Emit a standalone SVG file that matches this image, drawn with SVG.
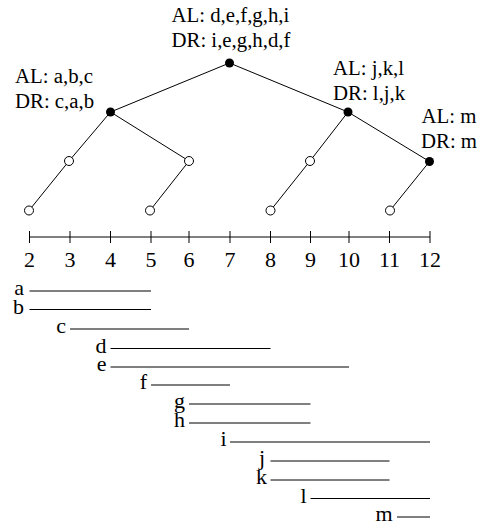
<svg xmlns="http://www.w3.org/2000/svg" width="488" height="527" viewBox="0 0 488 527">
<style>
text{font-family:"Liberation Serif","Times New Roman",serif;font-size:22px;fill:#000}
.t text{font-size:20.8px}
.e{stroke:#000;stroke-width:1;fill:none}
.f{fill:#000}
.o{fill:#fff;stroke:#000;stroke-width:1}
.r{text-anchor:end}
.m{text-anchor:middle}
</style>
<g id="connectors" class="e">
<line x1="229.5" y1="63" x2="110.5" y2="112"/>
<line x1="229.5" y1="63" x2="348" y2="112"/>
<line x1="110.5" y1="112" x2="69" y2="161"/>
<line x1="110.5" y1="112" x2="189" y2="161"/>
<line x1="69" y1="161" x2="29" y2="210.5"/>
<line x1="189" y1="161" x2="150" y2="210.5"/>
<line x1="348" y1="112" x2="310" y2="161"/>
<line x1="348" y1="112" x2="429.5" y2="161.5"/>
<line x1="310" y1="161" x2="270.5" y2="210.5"/>
<line x1="429.5" y1="161.5" x2="390" y2="210.5"/>
</g>
<g id="root" class="t"><circle class="f" cx="229.5" cy="63" r="4.5"/><text x="171.5" y="22">AL: d,e,f,g,h,i</text><text x="171.5" y="47">DR: i,e,g,h,d,f</text></g>
<g id="left" class="t"><circle class="f" cx="110.5" cy="112" r="4.5"/><text x="15" y="83">AL: a,b,c</text><text x="15" y="107.5">DR: c,a,b</text></g>
<g id="right" class="t"><circle class="f" cx="348" cy="112" r="4.5"/><text x="333" y="75">AL: j,k,l</text><text x="333" y="100">DR: l,j,k</text></g>
<g id="nm" class="t"><circle class="f" cx="429.5" cy="161.5" r="4.5"/><text x="421.5" y="123">AL: m</text><text x="421" y="148">DR: m</text></g>
<g id="n3"><circle class="o" cx="69" cy="161" r="4.5"/></g>
<g id="n6"><circle class="o" cx="189" cy="161" r="4.5"/></g>
<g id="n9"><circle class="o" cx="310" cy="161" r="4.5"/></g>
<g id="n2"><circle class="o" cx="29" cy="210.5" r="4.5"/></g>
<g id="n5"><circle class="o" cx="150" cy="210.5" r="4.5"/></g>
<g id="n8"><circle class="o" cx="270.5" cy="210.5" r="4.5"/></g>
<g id="n11"><circle class="o" cx="390" cy="210.5" r="4.5"/></g>
<g id="axis">
<line class="e" x1="29.5" y1="237" x2="430" y2="237"/>
<g class="e">
<line x1="29.5" y1="231" x2="29.5" y2="243"/>
<line x1="70" y1="231" x2="70" y2="243"/>
<line x1="110.5" y1="231" x2="110.5" y2="243"/>
<line x1="151" y1="231" x2="151" y2="243"/>
<line x1="189" y1="231" x2="189" y2="243"/>
<line x1="230" y1="231" x2="230" y2="243"/>
<line x1="270.5" y1="231" x2="270.5" y2="243"/>
<line x1="310.5" y1="231" x2="310.5" y2="243"/>
<line x1="349" y1="231" x2="349" y2="243"/>
<line x1="389.5" y1="231" x2="389.5" y2="243"/>
<line x1="430" y1="231" x2="430" y2="243"/>
</g>
<g class="m">
<text x="29.5" y="267">2</text>
<text x="70" y="267">3</text>
<text x="110.5" y="267">4</text>
<text x="151" y="267">5</text>
<text x="189" y="267">6</text>
<text x="230" y="267">7</text>
<text x="270.5" y="267">8</text>
<text x="310.5" y="267">9</text>
<text x="349" y="267">10</text>
<text x="389.5" y="267">11</text>
<text x="430" y="267">12</text>
</g>
</g>
<g id="intervals">
<g class="e">
<line x1="29.5" y1="291" x2="151" y2="291"/>
<line x1="29.5" y1="309.5" x2="151" y2="309.5"/>
<line x1="70" y1="329" x2="189" y2="329"/>
<line x1="110.5" y1="348.5" x2="270.5" y2="348.5"/>
<line x1="110.5" y1="367" x2="349" y2="367"/>
<line x1="151" y1="385" x2="230" y2="385"/>
<line x1="189" y1="404" x2="310.5" y2="404"/>
<line x1="189" y1="423" x2="310.5" y2="423"/>
<line x1="230" y1="442" x2="430" y2="442"/>
<line x1="270.5" y1="461" x2="389.5" y2="461"/>
<line x1="270.5" y1="480" x2="389.5" y2="480"/>
<line x1="310.5" y1="498.5" x2="430" y2="498.5"/>
<line x1="397" y1="517" x2="430" y2="517"/>
</g>
<g class="r">
<text x="24" y="295">a</text>
<text x="24" y="313.5">b</text>
<text x="66" y="333">c</text>
<text x="106.5" y="352.5">d</text>
<text x="106.5" y="371">e</text>
<text x="147" y="389">f</text>
<text x="185" y="408">g</text>
<text x="185" y="427">h</text>
<text x="226.5" y="446">i</text>
<text x="265" y="465">j</text>
<text x="267" y="484">k</text>
<text x="306.5" y="502.5">l</text>
<text x="392.5" y="521">m</text>
</g>
</g>
</svg>
